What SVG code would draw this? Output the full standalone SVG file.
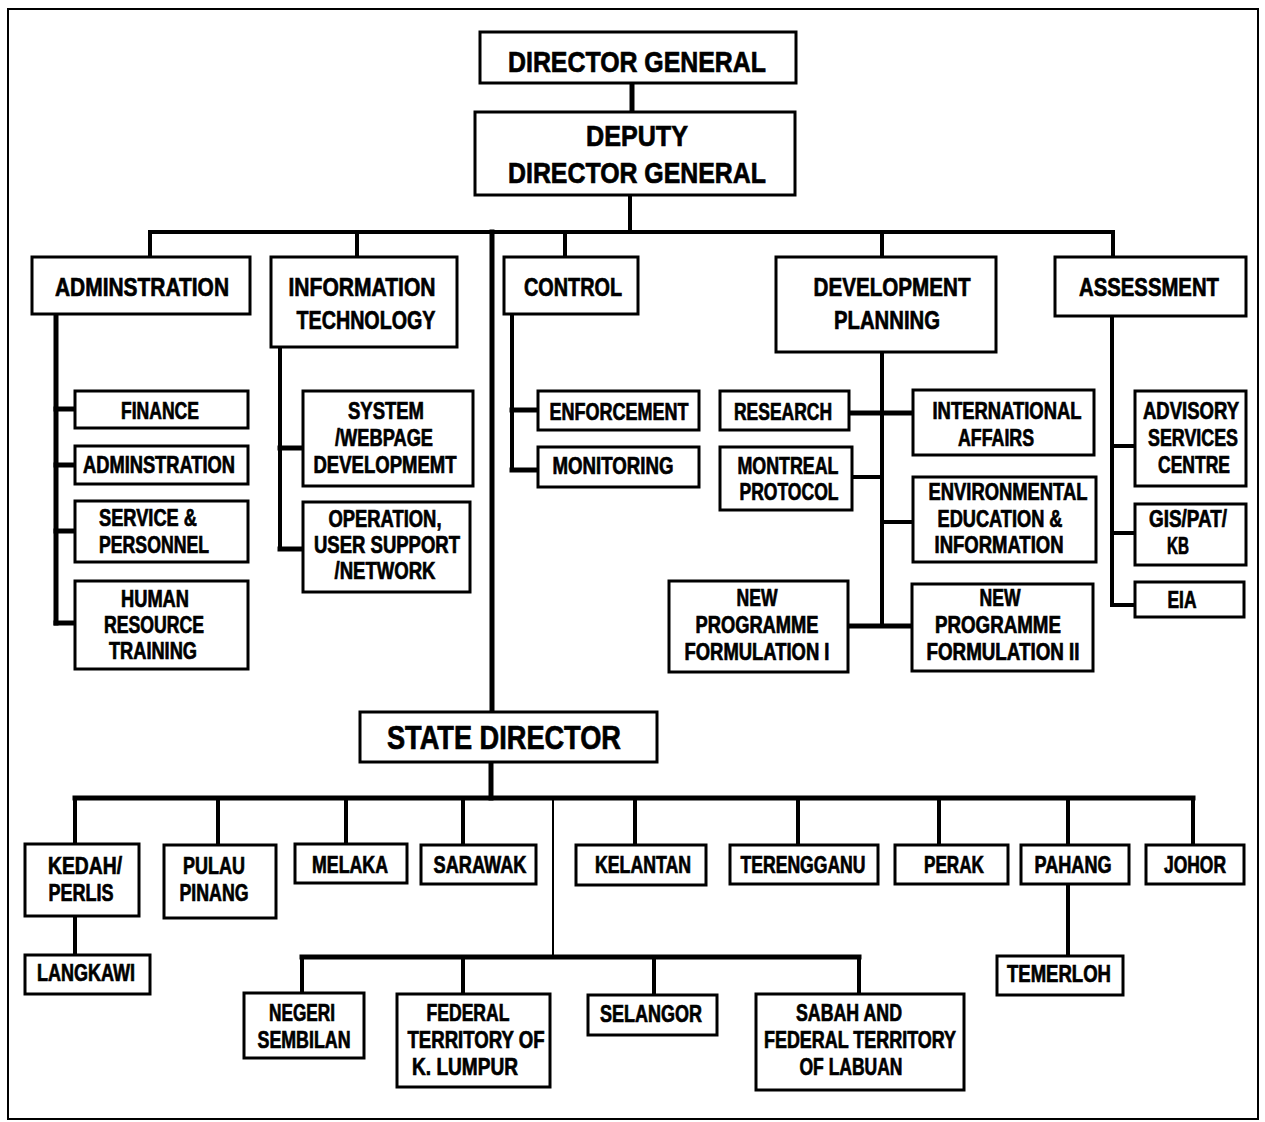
<svg xmlns="http://www.w3.org/2000/svg" width="1265" height="1122" viewBox="0 0 1265 1122">
<style>
.b{fill:#fff;stroke:#000;stroke-width:3}
.c{stroke:#000;stroke-width:4;fill:none;stroke-linecap:square}
.k{stroke-width:5}
.t{stroke-width:2}
text{font-family:"Liberation Sans",Arial,sans-serif;font-weight:bold;fill:#000;stroke:#000;stroke-width:0.7;text-anchor:middle}
.s{font-size:23px}
.h{font-size:26px}
.g{font-size:30px}
.x{font-size:33px}
</style>
<rect x="8" y="9" width="1250" height="1110" fill="#fff" stroke="#000" stroke-width="2"/>
<g id="connectors">
<line class="c k" x1="632" y1="83" x2="632" y2="112"/>
<line class="c" x1="630" y1="195" x2="630" y2="232"/>
<line class="c" x1="150" y1="232" x2="1113" y2="232"/>
<line class="c" x1="150" y1="232" x2="150" y2="257"/>
<line class="c" x1="357" y1="232" x2="357" y2="257"/>
<line class="c" x1="565" y1="232" x2="565" y2="257"/>
<line class="c" x1="882" y1="232" x2="882" y2="257"/>
<line class="c" x1="1113" y1="232" x2="1113" y2="257"/>
<line class="c k" x1="492" y1="232" x2="492" y2="712"/>
<line class="c k" x1="56" y1="314" x2="56" y2="623"/>
<line class="c k" x1="56" y1="409" x2="75" y2="409"/>
<line class="c k" x1="56" y1="465" x2="75" y2="465"/>
<line class="c k" x1="56" y1="531" x2="75" y2="531"/>
<line class="c k" x1="56" y1="623" x2="75" y2="623"/>
<line class="c" x1="280" y1="347" x2="280" y2="549"/>
<line class="c k" x1="280" y1="448" x2="303" y2="448"/>
<line class="c k" x1="280" y1="549" x2="303" y2="549"/>
<line class="c" x1="512" y1="314" x2="512" y2="470"/>
<line class="c k" x1="512" y1="410" x2="538" y2="410"/>
<line class="c k" x1="512" y1="470" x2="538" y2="470"/>
<line class="c" x1="882" y1="352" x2="882" y2="626"/>
<line class="c k" x1="849" y1="413" x2="913" y2="413"/>
<line class="c" x1="852" y1="477" x2="882" y2="477"/>
<line class="c" x1="882" y1="522" x2="913" y2="522"/>
<line class="c k" x1="848" y1="626" x2="912" y2="626"/>
<line class="c" x1="1112" y1="316" x2="1112" y2="605"/>
<line class="c" x1="1112" y1="446" x2="1135" y2="446"/>
<line class="c" x1="1112" y1="533" x2="1135" y2="533"/>
<line class="c" x1="1112" y1="605" x2="1135" y2="605"/>
<line class="c k" x1="491" y1="762" x2="491" y2="798"/>
<line class="c k" x1="75" y1="798" x2="1193" y2="798"/>
<line class="c" x1="75" y1="798" x2="75" y2="844"/>
<line class="c" x1="218" y1="798" x2="218" y2="845"/>
<line class="c" x1="346" y1="798" x2="346" y2="844"/>
<line class="c" x1="463" y1="798" x2="463" y2="845"/>
<line class="c" x1="635" y1="798" x2="635" y2="845"/>
<line class="c" x1="798" y1="798" x2="798" y2="845"/>
<line class="c" x1="939" y1="798" x2="939" y2="845"/>
<line class="c" x1="1068" y1="798" x2="1068" y2="845"/>
<line class="c" x1="1193" y1="798" x2="1193" y2="845"/>
<line class="c t" x1="553" y1="798" x2="553" y2="957"/>
<line class="c" x1="75" y1="916" x2="75" y2="955"/>
<line class="c" x1="1068" y1="884" x2="1068" y2="956"/>
<line class="c k" x1="302" y1="957" x2="859" y2="957"/>
<line class="c" x1="302" y1="957" x2="302" y2="993"/>
<line class="c" x1="463" y1="957" x2="463" y2="994"/>
<line class="c" x1="654" y1="957" x2="654" y2="995"/>
<line class="c" x1="859" y1="957" x2="859" y2="994"/>
</g>
<g id="director-general"><rect class="b" x="480" y="32" width="316" height="51"/><text class="g" x="637" y="72" textLength="258" lengthAdjust="spacingAndGlyphs">DIRECTOR GENERAL</text></g>
<g id="deputy-director-general"><rect class="b" x="475" y="112" width="320" height="83"/><text class="g" x="637" y="146" textLength="102" lengthAdjust="spacingAndGlyphs">DEPUTY</text><text class="g" x="637" y="183" textLength="258" lengthAdjust="spacingAndGlyphs">DIRECTOR GENERAL</text></g>
<g id="administration"><rect class="b" x="32" y="257" width="218" height="57"/><text class="h" x="142" y="296" textLength="174" lengthAdjust="spacingAndGlyphs">ADMINSTRATION</text></g>
<g id="information-technology"><rect class="b" x="271" y="257" width="186" height="90"/><text class="h" x="362" y="296" textLength="147" lengthAdjust="spacingAndGlyphs">INFORMATION</text><text class="h" x="366" y="329" textLength="139" lengthAdjust="spacingAndGlyphs">TECHNOLOGY</text></g>
<g id="control"><rect class="b" x="504" y="257" width="134" height="57"/><text class="h" x="573" y="296" textLength="98" lengthAdjust="spacingAndGlyphs">CONTROL</text></g>
<g id="development-planning"><rect class="b" x="776" y="257" width="220" height="95"/><text class="h" x="892" y="296" textLength="157" lengthAdjust="spacingAndGlyphs">DEVELOPMENT</text><text class="h" x="887" y="329" textLength="106" lengthAdjust="spacingAndGlyphs">PLANNING</text></g>
<g id="assessment"><rect class="b" x="1055" y="257" width="191" height="59"/><text class="h" x="1149" y="296" textLength="140" lengthAdjust="spacingAndGlyphs">ASSESSMENT</text></g>
<g id="finance"><rect class="b" x="75" y="391" width="173" height="37"/><text class="s" x="160" y="419" textLength="78" lengthAdjust="spacingAndGlyphs">FINANCE</text></g>
<g id="administration-sub"><rect class="b" x="75" y="446" width="173" height="38"/><text class="s" x="159" y="473" textLength="152" lengthAdjust="spacingAndGlyphs">ADMINSTRATION</text></g>
<g id="service-personnel"><rect class="b" x="75" y="501" width="173" height="61"/><text class="s" x="148" y="526" textLength="98" lengthAdjust="spacingAndGlyphs">SERVICE &amp;</text><text class="s" x="154" y="553" textLength="110" lengthAdjust="spacingAndGlyphs">PERSONNEL</text></g>
<g id="human-resource-training"><rect class="b" x="75" y="581" width="173" height="88"/><text class="s" x="155" y="607" textLength="68" lengthAdjust="spacingAndGlyphs">HUMAN</text><text class="s" x="154" y="633" textLength="100" lengthAdjust="spacingAndGlyphs">RESOURCE</text><text class="s" x="153" y="659" textLength="88" lengthAdjust="spacingAndGlyphs">TRAINING</text></g>
<g id="system-webpage"><rect class="b" x="303" y="391" width="170" height="95"/><text class="s" x="386" y="419" textLength="76" lengthAdjust="spacingAndGlyphs">SYSTEM</text><text class="s" x="384" y="446" textLength="98" lengthAdjust="spacingAndGlyphs">/WEBPAGE</text><text class="s" x="385" y="473" textLength="143" lengthAdjust="spacingAndGlyphs">DEVELOPMEMT</text></g>
<g id="operation-support"><rect class="b" x="303" y="502" width="167" height="90"/><text class="s" x="385" y="527" textLength="113" lengthAdjust="spacingAndGlyphs">OPERATION,</text><text class="s" x="387" y="553" textLength="146" lengthAdjust="spacingAndGlyphs">USER SUPPORT</text><text class="s" x="385" y="579" textLength="101" lengthAdjust="spacingAndGlyphs">/NETWORK</text></g>
<g id="enforcement"><rect class="b" x="538" y="391" width="161" height="39"/><text class="s" x="619" y="420" textLength="139" lengthAdjust="spacingAndGlyphs">ENFORCEMENT</text></g>
<g id="monitoring"><rect class="b" x="538" y="447" width="161" height="40"/><text class="s" x="613" y="474" textLength="121" lengthAdjust="spacingAndGlyphs">MONITORING</text></g>
<g id="research"><rect class="b" x="720" y="391" width="129" height="39"/><text class="s" x="783" y="420" textLength="98" lengthAdjust="spacingAndGlyphs">RESEARCH</text></g>
<g id="montreal-protocol"><rect class="b" x="720" y="447" width="132" height="63"/><text class="s" x="788" y="474" textLength="101" lengthAdjust="spacingAndGlyphs">MONTREAL</text><text class="s" x="789" y="500" textLength="99" lengthAdjust="spacingAndGlyphs">PROTOCOL</text></g>
<g id="new-programme-1"><rect class="b" x="669" y="581" width="179" height="91"/><text class="s" x="757" y="606" textLength="41" lengthAdjust="spacingAndGlyphs">NEW</text><text class="s" x="757" y="633" textLength="123" lengthAdjust="spacingAndGlyphs">PROGRAMME</text><text class="s" x="757" y="660" textLength="145" lengthAdjust="spacingAndGlyphs">FORMULATION I</text></g>
<g id="international-affairs"><rect class="b" x="913" y="390" width="181" height="65"/><text class="s" x="1007" y="419" textLength="149" lengthAdjust="spacingAndGlyphs">INTERNATIONAL</text><text class="s" x="996" y="446" textLength="76" lengthAdjust="spacingAndGlyphs">AFFAIRS</text></g>
<g id="environmental-education"><rect class="b" x="913" y="477" width="183" height="85"/><text class="s" x="1008" y="500" textLength="159" lengthAdjust="spacingAndGlyphs">ENVIRONMENTAL</text><text class="s" x="1000" y="527" textLength="125" lengthAdjust="spacingAndGlyphs">EDUCATION &amp;</text><text class="s" x="999" y="553" textLength="129" lengthAdjust="spacingAndGlyphs">INFORMATION</text></g>
<g id="new-programme-2"><rect class="b" x="912" y="584" width="181" height="87"/><text class="s" x="1000" y="606" textLength="41" lengthAdjust="spacingAndGlyphs">NEW</text><text class="s" x="998" y="633" textLength="126" lengthAdjust="spacingAndGlyphs">PROGRAMME</text><text class="s" x="1003" y="660" textLength="153" lengthAdjust="spacingAndGlyphs">FORMULATION II</text></g>
<g id="advisory-services"><rect class="b" x="1135" y="391" width="111" height="95"/><text class="s" x="1191" y="419" textLength="96" lengthAdjust="spacingAndGlyphs">ADVISORY</text><text class="s" x="1193" y="446" textLength="90" lengthAdjust="spacingAndGlyphs">SERVICES</text><text class="s" x="1194" y="473" textLength="72" lengthAdjust="spacingAndGlyphs">CENTRE</text></g>
<g id="gis-pat-kb"><rect class="b" x="1135" y="504" width="111" height="61"/><text class="s" x="1188" y="527" textLength="78" lengthAdjust="spacingAndGlyphs">GIS/PAT/</text><text class="s" x="1178" y="554" textLength="22" lengthAdjust="spacingAndGlyphs">KB</text></g>
<g id="eia"><rect class="b" x="1135" y="582" width="109" height="35"/><text class="s" x="1182" y="608" textLength="29" lengthAdjust="spacingAndGlyphs">EIA</text></g>
<g id="state-director"><rect class="b" x="360" y="712" width="297" height="50"/><text class="x" x="504" y="749" textLength="234" lengthAdjust="spacingAndGlyphs">STATE DIRECTOR</text></g>
<g id="kedah-perlis"><rect class="b" x="25" y="844" width="114" height="72"/><text class="s" x="85" y="874" textLength="74" lengthAdjust="spacingAndGlyphs">KEDAH/</text><text class="s" x="81" y="901" textLength="65" lengthAdjust="spacingAndGlyphs">PERLIS</text></g>
<g id="pulau-pinang"><rect class="b" x="164" y="845" width="112" height="73"/><text class="s" x="214" y="874" textLength="62" lengthAdjust="spacingAndGlyphs">PULAU</text><text class="s" x="214" y="901" textLength="69" lengthAdjust="spacingAndGlyphs">PINANG</text></g>
<g id="melaka"><rect class="b" x="295" y="844" width="112" height="39"/><text class="s" x="350" y="873" textLength="76" lengthAdjust="spacingAndGlyphs">MELAKA</text></g>
<g id="sarawak"><rect class="b" x="421" y="845" width="115" height="39"/><text class="s" x="480" y="873" textLength="93" lengthAdjust="spacingAndGlyphs">SARAWAK</text></g>
<g id="kelantan"><rect class="b" x="576" y="845" width="130" height="40"/><text class="s" x="643" y="873" textLength="96" lengthAdjust="spacingAndGlyphs">KELANTAN</text></g>
<g id="terengganu"><rect class="b" x="730" y="845" width="148" height="39"/><text class="s" x="803" y="873" textLength="125" lengthAdjust="spacingAndGlyphs">TERENGGANU</text></g>
<g id="perak"><rect class="b" x="895" y="845" width="113" height="39"/><text class="s" x="954" y="873" textLength="60" lengthAdjust="spacingAndGlyphs">PERAK</text></g>
<g id="pahang"><rect class="b" x="1021" y="845" width="108" height="39"/><text class="s" x="1073" y="873" textLength="77" lengthAdjust="spacingAndGlyphs">PAHANG</text></g>
<g id="johor"><rect class="b" x="1146" y="845" width="98" height="39"/><text class="s" x="1195" y="873" textLength="62" lengthAdjust="spacingAndGlyphs">JOHOR</text></g>
<g id="langkawi"><rect class="b" x="25" y="955" width="125" height="39"/><text class="s" x="86" y="981" textLength="98" lengthAdjust="spacingAndGlyphs">LANGKAWI</text></g>
<g id="temerloh"><rect class="b" x="997" y="956" width="126" height="39"/><text class="s" x="1059" y="982" textLength="104" lengthAdjust="spacingAndGlyphs">TEMERLOH</text></g>
<g id="negeri-sembilan"><rect class="b" x="244" y="993" width="120" height="65"/><text class="s" x="302" y="1021" textLength="66" lengthAdjust="spacingAndGlyphs">NEGERI</text><text class="s" x="304" y="1048" textLength="93" lengthAdjust="spacingAndGlyphs">SEMBILAN</text></g>
<g id="federal-kl"><rect class="b" x="397" y="994" width="153" height="93"/><text class="s" x="468" y="1021" textLength="83" lengthAdjust="spacingAndGlyphs">FEDERAL</text><text class="s" x="476" y="1048" textLength="137" lengthAdjust="spacingAndGlyphs">TERRITORY OF</text><text class="s" x="465" y="1075" textLength="106" lengthAdjust="spacingAndGlyphs">K. LUMPUR</text></g>
<g id="selangor"><rect class="b" x="588" y="995" width="129" height="40"/><text class="s" x="651" y="1022" textLength="102" lengthAdjust="spacingAndGlyphs">SELANGOR</text></g>
<g id="sabah-labuan"><rect class="b" x="756" y="994" width="208" height="96"/><text class="s" x="849" y="1021" textLength="106" lengthAdjust="spacingAndGlyphs">SABAH AND</text><text class="s" x="860" y="1048" textLength="192" lengthAdjust="spacingAndGlyphs">FEDERAL TERRITORY</text><text class="s" x="851" y="1075" textLength="103" lengthAdjust="spacingAndGlyphs">OF LABUAN</text></g>
</svg>
